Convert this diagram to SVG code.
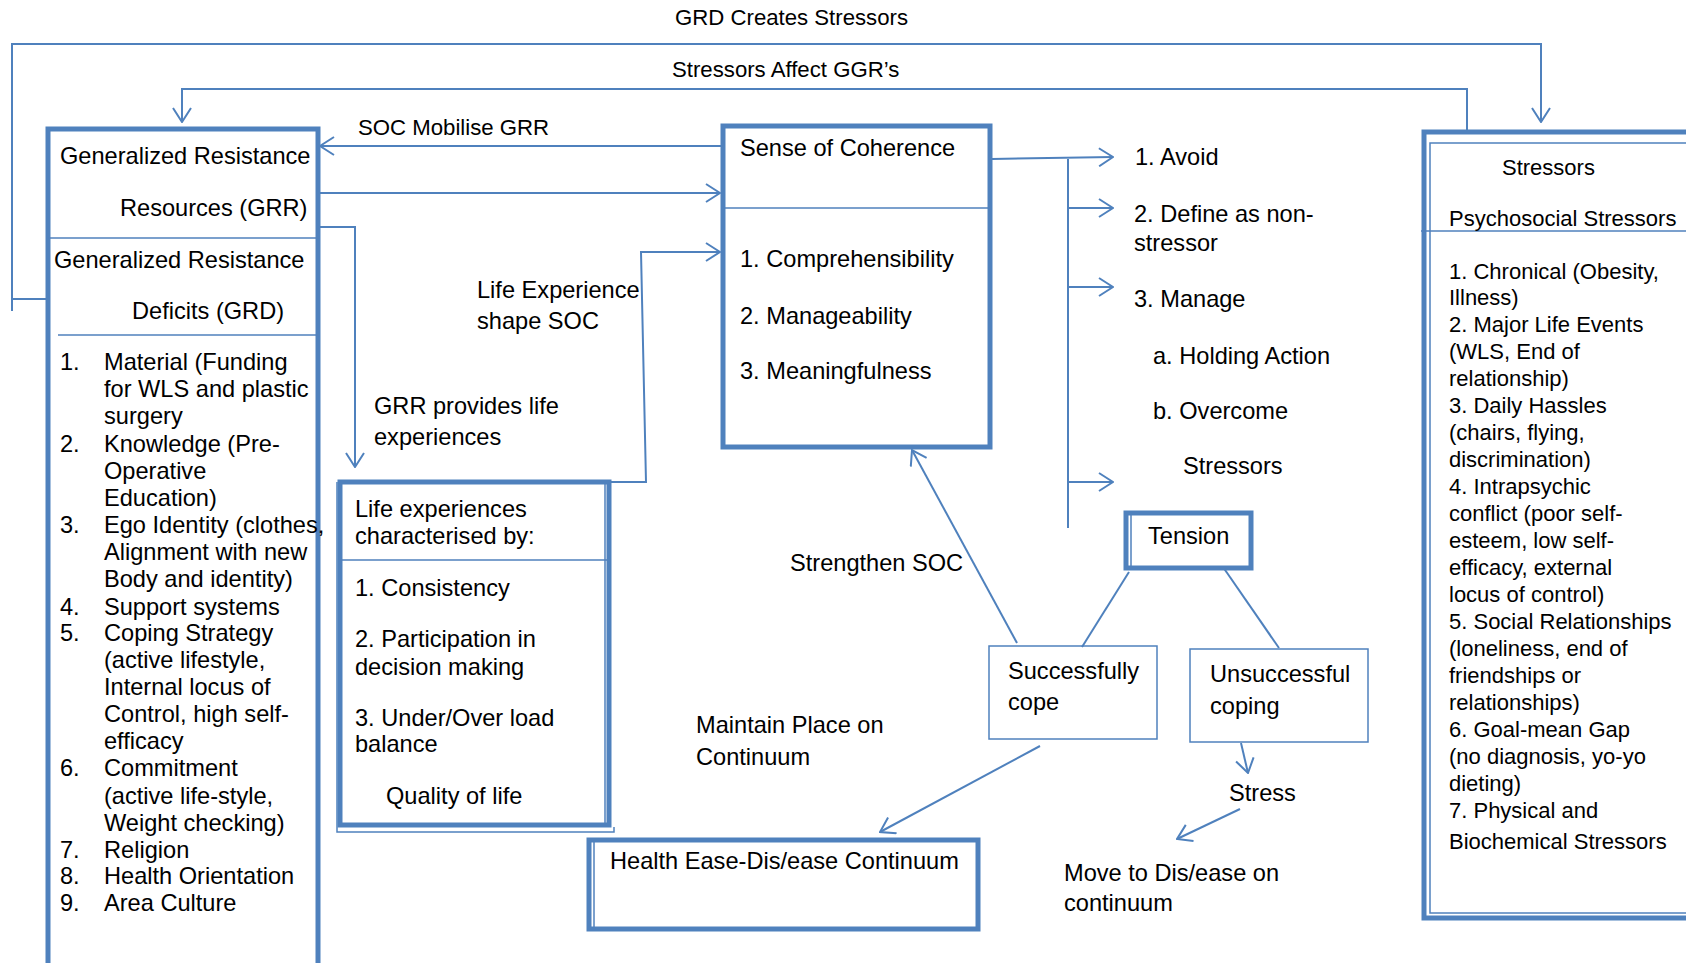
<svg xmlns="http://www.w3.org/2000/svg" width="1686" height="963" viewBox="0 0 1686 963">
  <defs>
    <style>
      .box { fill: none; stroke: #4F81BD; stroke-width: 5; }
      .thin { fill: none; stroke: #4F81BD; stroke-width: 1.5; }
      .conn { fill: none; stroke: #4F81BD; stroke-width: 2; }
      text { font-family: "Liberation Sans", Arial, sans-serif; font-size: 23.6px; fill: #000; }
      .lbl { font-size: 22.2px; }
      .st { font-size: 22px; }
    </style>
    <marker id="arr" viewBox="0 0 16 20" refX="15" refY="10" markerWidth="16" markerHeight="20" markerUnits="userSpaceOnUse" orient="auto">
      <path d="M1,1 L15,10 L1,19" fill="none" stroke="#4F81BD" stroke-width="2"/>
    </marker>
  </defs>
  <rect width="1686" height="963" fill="#fff"/>

  <!-- connectors -->
  <g id="connectors">
    <!-- GRD creates stressors -->
    <polyline class="conn" points="12,311 12,44 1541,44 1541,122" marker-end="url(#arr)"/>
    <line class="conn" x1="12" y1="299" x2="48" y2="299"/>
    <!-- stressors affect GRR -->
    <polyline class="conn" points="1467,130 1467,89 182,89 182,122" marker-end="url(#arr)"/>
    <!-- SOC mobilise GRR -->
    <line class="conn" x1="721" y1="146" x2="320" y2="146" marker-end="url(#arr)"/>
    <!-- GRR to SOC -->
    <line class="conn" x1="318" y1="193" x2="720" y2="193" marker-end="url(#arr)"/>
    <!-- GRR provides life experiences -->
    <polyline class="conn" points="318,227 355,227 355,467" marker-end="url(#arr)"/>
    <!-- life experience shapes SOC -->
    <polyline class="conn" points="609,482 646,482 641,252 720,252" marker-end="url(#arr)"/>
    <!-- SOC outcomes -->
    <line class="conn" x1="992" y1="159" x2="1113" y2="157" marker-end="url(#arr)"/>
    <line class="conn" x1="1068" y1="159" x2="1068" y2="528"/>
    <line class="conn" x1="1068" y1="208" x2="1113" y2="208" marker-end="url(#arr)"/>
    <line class="conn" x1="1068" y1="287" x2="1113" y2="287" marker-end="url(#arr)"/>
    <line class="conn" x1="1068" y1="482" x2="1113" y2="482" marker-end="url(#arr)"/>
    <!-- tension branches -->
    <line class="conn" x1="1129" y1="572" x2="1082" y2="647"/>
    <line class="conn" x1="1223" y1="567" x2="1279" y2="648"/>
    <!-- strengthen SOC -->
    <line class="conn" x1="1017" y1="643" x2="912" y2="450" marker-end="url(#arr)"/>
    <!-- maintain place on continuum -->
    <line class="conn" x1="1040" y1="746" x2="880" y2="832" marker-end="url(#arr)"/>
    <!-- unsuccessful to stress -->
    <line class="conn" x1="1241" y1="743" x2="1248" y2="773" marker-end="url(#arr)"/>
    <!-- stress to dis/ease -->
    <line class="conn" x1="1240" y1="809" x2="1177" y2="839" marker-end="url(#arr)"/>
  </g>

  <!-- top labels -->
  <g id="labels">
    <text class="lbl" x="675" y="25">GRD Creates Stressors</text>
    <text class="lbl" x="672" y="77">Stressors Affect GGR’s</text>
    <text class="lbl" x="358" y="135">SOC Mobilise GRR</text>
    <text x="374" y="414">GRR provides life</text>
    <text x="374" y="445">experiences</text>
    <text x="477" y="298">Life Experience</text>
    <text x="477" y="329">shape SOC</text>
    <text x="790" y="571">Strengthen SOC</text>
    <text x="696" y="733">Maintain Place on</text>
    <text x="696" y="765">Continuum</text>
    <text x="1229" y="801">Stress</text>
    <text x="1064" y="881">Move to Dis/ease on</text>
    <text x="1064" y="911">continuum</text>
  </g>

  <!-- Generalized resistance resources / deficits -->
  <g id="grr">
    <rect class="box" x="48" y="129" width="270" height="860"/>
    <line class="thin" x1="48" y1="238" x2="318" y2="238"/>
    <line class="thin" x1="58" y1="335" x2="318" y2="335"/>
    <text x="60" y="164">Generalized Resistance</text>
    <text x="120" y="216">Resources (GRR)</text>
    <text x="54" y="268">Generalized Resistance</text>
    <text x="132" y="319">Deficits (GRD)</text>
    <g>
      <text x="60" y="370">1.</text><text x="104" y="370">Material (Funding</text>
      <text x="104" y="397">for WLS and plastic</text>
      <text x="104" y="424">surgery</text>
      <text x="60" y="452">2.</text><text x="104" y="452">Knowledge (Pre-</text>
      <text x="104" y="479">Operative</text>
      <text x="104" y="506">Education)</text>
      <text x="60" y="533">3.</text><text x="104" y="533">Ego Identity (clothes,</text>
      <text x="104" y="560">Alignment with new</text>
      <text x="104" y="587">Body and identity)</text>
      <text x="60" y="615">4.</text><text x="104" y="615">Support systems</text>
      <text x="60" y="641">5.</text><text x="104" y="641">Coping Strategy</text>
      <text x="104" y="668">(active lifestyle,</text>
      <text x="104" y="695">Internal locus of</text>
      <text x="104" y="722">Control, high self-</text>
      <text x="104" y="749">efficacy</text>
      <text x="60" y="776">6.</text><text x="104" y="776">Commitment</text>
      <text x="104" y="804">(active life-style,</text>
      <text x="104" y="831">Weight checking)</text>
      <text x="60" y="858">7.</text><text x="104" y="858">Religion</text>
      <text x="60" y="884">8.</text><text x="104" y="884">Health Orientation</text>
      <text x="60" y="911">9.</text><text x="104" y="911">Area Culture</text>
    </g>
  </g>

  <!-- Life experiences -->
  <g id="life">
    <rect class="box" x="340" y="482" width="269" height="343"/>
    <polyline class="thin" points="337,482 337,832 614,832 614,827"/>
    <line class="thin" x1="605" y1="484" x2="605" y2="823"/>
    <line class="thin" x1="340" y1="560" x2="609" y2="560"/>
    <text x="355" y="517">Life experiences</text>
    <text x="355" y="544">characterised by:</text>
    <text x="355" y="596">1. Consistency</text>
    <text x="355" y="647">2. Participation in</text>
    <text x="355" y="675">decision making</text>
    <text x="355" y="726">3. Under/Over load</text>
    <text x="355" y="752">balance</text>
    <text x="386" y="804">Quality of life</text>
  </g>

  <!-- Sense of coherence -->
  <g id="soc">
    <rect class="box" x="723" y="126" width="267" height="321"/>
    <line class="thin" x1="723" y1="208" x2="990" y2="208"/>
    <text x="740" y="156">Sense of Coherence</text>
    <text x="740" y="267">1. Comprehensibility</text>
    <text x="740" y="324">2. Manageability</text>
    <text x="740" y="379">3. Meaningfulness</text>
  </g>

  <!-- Coping options -->
  <g id="options">
    <text x="1135" y="165">1. Avoid</text>
    <text x="1134" y="222">2. Define as non-</text>
    <text x="1134" y="251">stressor</text>
    <text x="1134" y="307">3. Manage</text>
    <text x="1153" y="364">a. Holding Action</text>
    <text x="1153" y="419">b. Overcome</text>
    <text x="1183" y="474">Stressors</text>
  </g>

  <!-- Tension -->
  <g id="tension">
    <rect class="box" x="1126" y="513" width="125" height="55"/>
    <line class="thin" x1="1131" y1="515" x2="1131" y2="566"/>
    <text x="1148" y="544">Tension</text>
  </g>

  <g id="success">
    <rect class="thin" x="989" y="646" width="168" height="93"/>
    <text x="1008" y="679">Successfully</text>
    <text x="1008" y="710">cope</text>
  </g>

  <g id="unsuccess">
    <rect class="thin" x="1190" y="649" width="178" height="93"/>
    <text x="1210" y="682">Unsuccessful</text>
    <text x="1210" y="714">coping</text>
  </g>

  <!-- Health continuum -->
  <g id="health">
    <rect class="box" x="589" y="840" width="389" height="89"/>
    <line class="thin" x1="594" y1="842" x2="594" y2="927"/>
    <text x="610" y="869">Health Ease-Dis/ease Continuum</text>
  </g>

  <!-- Stressors -->
  <g id="stressors">
    <rect class="box" x="1424" y="132" width="290" height="786"/>
    <rect class="thin" x="1430" y="143" width="290" height="770"/>
    <line class="thin" x1="1421" y1="231" x2="1686" y2="231"/>
    <text class="st" x="1502" y="175">Stressors</text>
    <text class="st" x="1449" y="226">Psychosocial Stressors</text>
    <text class="st" x="1449" y="279">1. Chronical (Obesity,</text>
    <text class="st" x="1449" y="305">Illness)</text>
    <text class="st" x="1449" y="332">2. Major Life Events</text>
    <text class="st" x="1449" y="359">(WLS, End of</text>
    <text class="st" x="1449" y="386">relationship)</text>
    <text class="st" x="1449" y="413">3. Daily Hassles</text>
    <text class="st" x="1449" y="440">(chairs, flying,</text>
    <text class="st" x="1449" y="467">discrimination)</text>
    <text class="st" x="1449" y="494">4. Intrapsychic</text>
    <text class="st" x="1449" y="521">conflict (poor self-</text>
    <text class="st" x="1449" y="548">esteem, low self-</text>
    <text class="st" x="1449" y="575">efficacy, external</text>
    <text class="st" x="1449" y="602">locus of control)</text>
    <text class="st" x="1449" y="629">5. Social Relationships</text>
    <text class="st" x="1449" y="656">(loneliness, end of</text>
    <text class="st" x="1449" y="683">friendships or</text>
    <text class="st" x="1449" y="710">relationships)</text>
    <text class="st" x="1449" y="737">6. Goal-mean Gap</text>
    <text class="st" x="1449" y="764">(no diagnosis, yo-yo</text>
    <text class="st" x="1449" y="791">dieting)</text>
    <text class="st" x="1449" y="818">7. Physical and</text>
    <text class="st" x="1449" y="849">Biochemical Stressors</text>
  </g>
</svg>
